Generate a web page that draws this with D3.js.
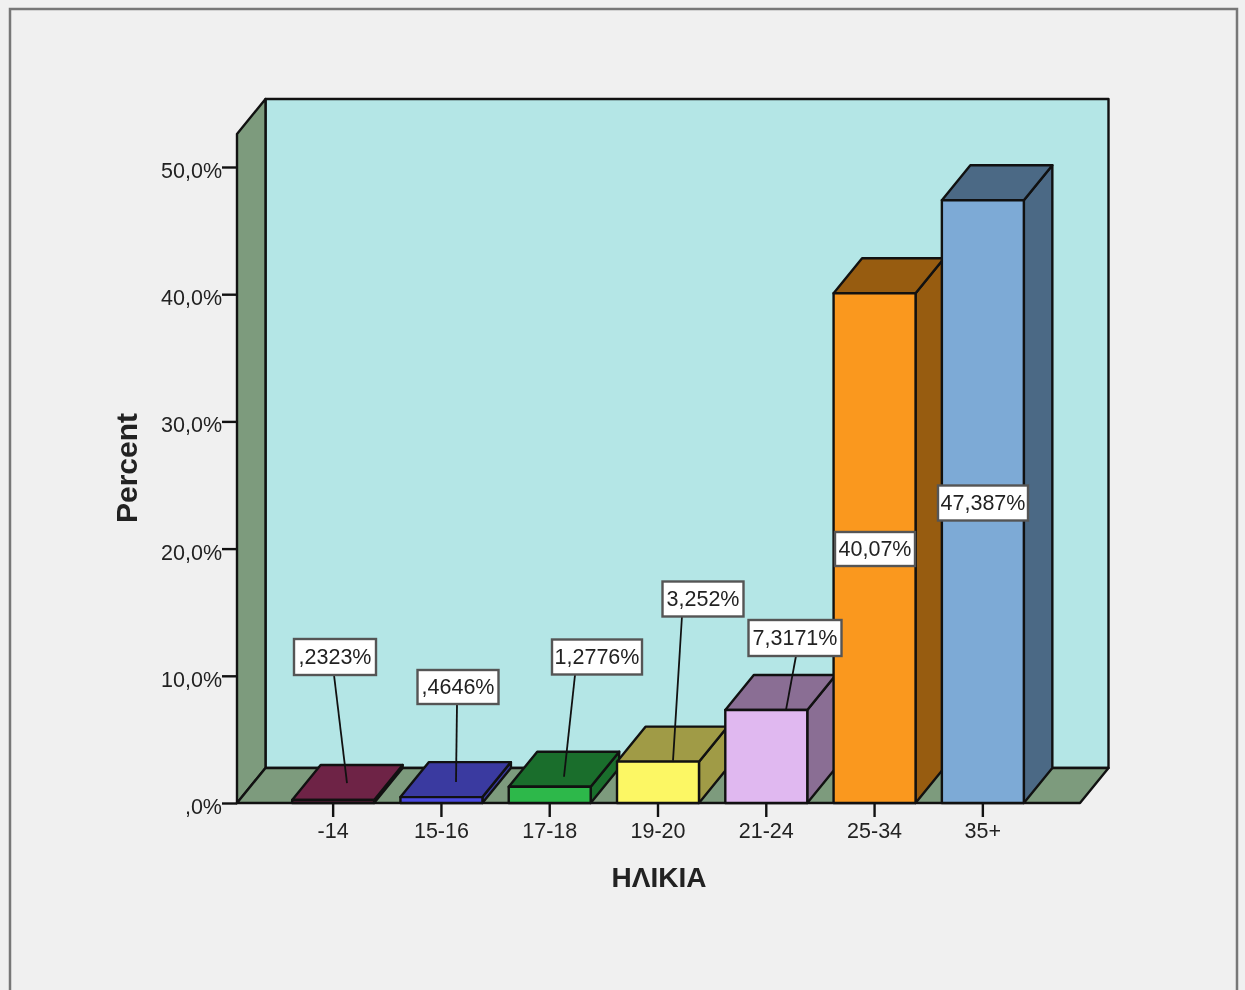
<!DOCTYPE html>
<html><head><meta charset="utf-8">
<script src="https://cdn.jsdelivr.net/npm/d3@7"></script>
<style>html,body{margin:0;padding:0;background:#f0f0f0;overflow:hidden}svg{display:block;filter:blur(.45px)}text{font-family:"Liberation Sans",Arial,sans-serif;fill:#222}</style>
</head><body><svg id="c" width="1245" height="990"></svg>
<script>
const categories = ["-14","15-16","17-18","19-20","21-24","25-34","35+"];
const percentValues = [0.2323,0.4646,1.2776,3.252,7.3171,40.07,47.387];
const valueLabels = [",2323%",",4646%","1,2776%","3,252%","7,3171%","40,07%","47,387%"];
const frontColors = ["#6e2346","#4a4ae0","#2db84a","#fcf764","#e0b8f0","#fa981e","#7daad6"];
const depthColors = ["#6e2346","#3a3aa0","#1a6e2c","#a09b46","#8a6e94","#975c10","#4b6985"];
const yTickValues = [0,10,20,30,40,50];
const yTickLabels = [",0%","10,0%","20,0%","30,0%","40,0%","50,0%"];

// Layout of the callout boxes and their leader lines (leader ends relative to the bar top)
const labelBoxes = [
 {cx:335,cy:657,w:82,h:36,from:[334,675],toX:347,toDy:-17},
 {cx:458,cy:687,w:81,h:34,from:[457,704],toX:456,toDy:-15},
 {cx:597,cy:657,w:90,h:35,from:[575,675],toX:564,toDy:-10},
 {cx:703,cy:599,w:81,h:35,from:[682,616],toX:673,toDy:-1},
 {cx:795,cy:638,w:93,h:36,from:[796,656],toX:786,toDy:0},
 {cx:875,cy:549,w:80,h:34},
 {cx:983,cy:503,w:90,h:35}
];

const svg = d3.select("#c");
const x = d3.scaleBand().domain(categories).range([279,1037]).paddingInner(0.243).paddingOuter(0.1215);
const y = d3.scaleLinear().domain([0,50]).range([803,167]);
const depthX = 28.5, depthY = -35;
const ink = "#111";

svg.append("rect").attr("x",10).attr("y",9).attr("width",1227).attr("height",1000)
  .attr("fill","#f0f0f0").attr("stroke","#777").attr("stroke-width",2.5);

const x0=237, x1=1080, y0=y(0), yTop=134;
const poly=(pts,fill,parent=svg)=>parent.append("path")
  .attr("d",d3.line()(pts)+"Z").attr("fill",fill).attr("stroke",ink).attr("stroke-width",2.4).attr("stroke-linejoin","round");

poly([[x0+depthX,yTop+depthY],[x1+depthX,yTop+depthY],[x1+depthX,y0+depthY],[x0+depthX,y0+depthY]],"#b4e6e6");
poly([[x0,yTop],[x0+depthX,yTop+depthY],[x0+depthX,y0+depthY],[x0,y0]],"#7d9b7d");
poly([[x0,y0],[x0+depthX,y0+depthY],[x1+depthX,y0+depthY],[x1,y0]],"#7d9b7d");

categories.forEach((c,i)=>{
  const l=x(c), r=l+x.bandwidth(), t=y(percentValues[i]);
  poly([[r,y0],[r+depthX,y0+depthY],[r+depthX,t+depthY],[r,t]],depthColors[i]);
  poly([[l,t],[l+depthX,t+depthY],[r+depthX,t+depthY],[r,t]],depthColors[i]);
  poly([[l,t],[r,t],[r,y0],[l,y0]],frontColors[i]);
});

const yAxis = d3.axisLeft(y).tickValues(yTickValues).tickSize(15).tickPadding(0)
  .tickFormat((d,i)=>yTickLabels[i]);
const gy = svg.append("g").attr("transform",`translate(${x0},0)`).call(yAxis);
const xAxis = d3.axisBottom(x).tickSize(14).tickPadding(6);
const gx = svg.append("g").attr("transform",`translate(0,${y0})`).call(xAxis);
[gy,gx].forEach(g=>{g.select(".domain").remove();
  g.selectAll("line").attr("stroke",ink).attr("stroke-width",2.4);
  g.selectAll("text").attr("font-size",21.5).attr("fill","#222");});
gy.selectAll("text").attr("dy","0.65em").attr("y",-3.5);

svg.append("text").attr("transform","translate(137,468) rotate(-90)").attr("text-anchor","middle")
  .attr("font-size",30).attr("font-weight","bold").text("Percent");
svg.append("text").attr("x",659).attr("y",887).attr("text-anchor","middle")
  .attr("font-size",28).attr("font-weight","bold").text("ΗΛΙΚΙΑ");

categories.forEach((c,i)=>{
  const b=labelBoxes[i];
  if(b.from){
    svg.append("line").attr("x1",b.from[0]).attr("y1",b.from[1]).attr("x2",b.toX).attr("y2",y(percentValues[i])+b.toDy)
      .attr("stroke","#111").attr("stroke-width",1.8);
  }
  svg.append("rect").attr("x",b.cx-b.w/2).attr("y",b.cy-b.h/2).attr("width",b.w).attr("height",b.h)
    .attr("fill","#fff").attr("stroke","#555").attr("stroke-width",2.4);
  svg.append("text").attr("x",b.cx).attr("y",b.cy+7).attr("text-anchor","middle").attr("font-size",21.5).text(valueLabels[i]);
});
</script></body></html>
